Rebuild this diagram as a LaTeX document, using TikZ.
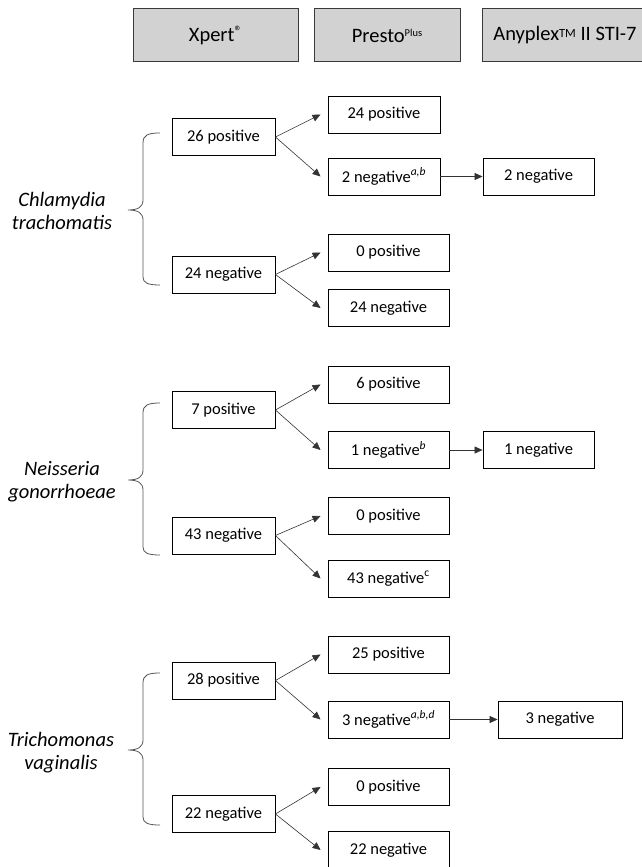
\documentclass[tikz,border=0pt]{standalone}
\usepackage{fontspec}
\setmainfont{Carlito}
\usetikzlibrary{arrows.meta}
\definecolor{hdrfill}{HTML}{D2D2D2}
\definecolor{hdrline}{HTML}{3A3A3A}
\definecolor{arrline}{HTML}{333333}
\definecolor{bracecol}{HTML}{555555}
\tikzset{
  hdr/.style={draw=hdrline, fill=hdrfill, line width=1pt, minimum height=53pt, inner sep=0pt, font=\fontsize{20.5}{24}\selectfont},
  lbox/.style={draw, line width=0.9pt, minimum width=103pt, minimum height=37pt, inner sep=0pt, font=\fontsize{16.5}{19}\selectfont},
  rbox/.style={draw, line width=0.9pt, minimum width=121pt, minimum height=37pt, inner sep=0pt, font=\fontsize{16.5}{19}\selectfont},
  nbox/.style={rbox, minimum width=112pt},
  species/.style={align=center, font=\fontsize{20.5}{23}\selectfont\itshape},
  arr/.style={draw=arrline, line width=0.6pt, -{Triangle[length=8pt,width=7pt]}},
  brace/.style={draw=bracecol, line width=0.8pt}
}
\newcommand{\sups}[1]{\textsuperscript{\itshape #1}}
\begin{document}
\begin{tikzpicture}[x=1pt,y=-1pt]
\clip (0,0) rectangle (642,867);
\fill[white] (0,0) rectangle (642,867);
% headers
\node[hdr, minimum width=165pt] (hx) at (215.5,35.5) {Xpert\raisebox{0.45ex}{\fontsize{15}{15}\selectfont®}};
\node[hdr, minimum width=146pt] (hp) at (387,35.5) {Presto\raisebox{0.6ex}{\fontsize{10.5}{10.5}\selectfont Plus}};
\node[hdr, minimum width=180pt] (ha) at (572,35.5) {\hspace*{-14pt}Anyplex\raisebox{0.4ex}{\fontsize{12.5}{12.5}\selectfont TM} II STI-7};

% ---------- Chlamydia trachomatis ----------
\node[species] (s1) at (62,211) {Chlamydia\\trachomatis};
\coordinate (s1t) at (160,133);
\coordinate (s1m) at (128,210);
\coordinate (s1b) at (160,285);
\draw[brace] (s1t) .. controls (148,133) and (143,135) .. (143,143) -- (143,200)
  .. controls (143,207) and (138,210) .. (s1m)
  .. controls (138,210) and (143,213) .. (143,220) -- (143,277)
  .. controls (143,283) and (148,285) .. (s1b);
\node[lbox] (a1) at (223.5,137) {26 positive};
\node[lbox] (a2) at (223.5,274.5) {24 negative};
\node[nbox] (b1) at (384,114.5) {24 positive};
\node[nbox] (b2) at (384,176.5) {2 negative\sups{a,b}};
\node[rbox] (b3) at (388.5,252.5) {0 positive};
\node[rbox] (b4) at (388.5,308) {24 negative};
\node[nbox, minimum width=111pt] (c1) at (538.5,176.5) {2 negative};
\draw[arr] (a1.east) -- ([xshift=-7pt]b1.west);
\draw[arr] (a1.east) -- ([xshift=-7pt]b2.west);
\draw[arr] (a2.east) -- ([xshift=-7pt]b3.west);
\draw[arr] (a2.east) -- ([xshift=-7pt]b4.west);
\draw[arr] (b2.east) -- (c1.west);

% ---------- Neisseria gonorrhoeae ----------
\node[species] (s2) at (62,482) {Neisseria\\gonorrhoeae};
\coordinate (s2t) at (160,403);
\coordinate (s2m) at (128,480);
\coordinate (s2b) at (160,555);
\draw[brace] (s2t) .. controls (148,403) and (143,405) .. (143,413) -- (143,470)
  .. controls (143,477) and (138,480) .. (s2m)
  .. controls (138,480) and (143,483) .. (143,490) -- (143,547)
  .. controls (143,553) and (148,555) .. (s2b);
\node[lbox] (d1) at (223.5,410) {7 positive};
\node[lbox] (d2) at (223.5,535.5) {43 negative};
\node[rbox] (e1) at (388.5,384.5) {6 positive};
\node[rbox] (e2) at (388.5,450) {1 negative\sups{b}};
\node[rbox] (e3) at (388.5,516) {0 positive};
\node[rbox] (e4) at (388.5,578.5) {43 negative\textsuperscript{c}};
\node[nbox, minimum width=111pt] (f1) at (538.5,450) {1 negative};
\draw[arr] (d1.east) -- ([xshift=-7pt]e1.west);
\draw[arr] (d1.east) -- ([xshift=-7pt]e2.west);
\draw[arr] (d2.east) -- ([xshift=-7pt]e3.west);
\draw[arr] (d2.east) -- ([xshift=-7pt]e4.west);
\draw[arr] (e2.east) -- (f1.west);

% ---------- Trichomonas vaginalis ----------
\node[species] (s3) at (61,753) {Trichomonas\\vaginalis};
\coordinate (s3t) at (160,673);
\coordinate (s3m) at (128,750);
\coordinate (s3b) at (160,825);
\draw[brace] (s3t) .. controls (148,673) and (143,675) .. (143,683) -- (143,740)
  .. controls (143,747) and (138,750) .. (s3m)
  .. controls (138,750) and (143,753) .. (143,760) -- (143,817)
  .. controls (143,823) and (148,825) .. (s3b);
\node[lbox] (g1) at (223.5,680.5) {28 positive};
\node[lbox] (g2) at (223.5,814) {22 negative};
\node[rbox] (h1) at (388.5,654.5) {25 positive};
\node[rbox] (h2) at (388.5,719.5) {3 negative\sups{a,b,d}};
\node[rbox] (h3) at (388.5,787) {0 positive};
\node[rbox] (h4) at (388.5,850) {22 negative};
\node[nbox, minimum width=124pt] (i1) at (560,719.5) {3 negative};
\draw[arr] (g1.east) -- ([xshift=-7pt]h1.west);
\draw[arr] (g1.east) -- ([xshift=-7pt]h2.west);
\draw[arr] (g2.east) -- ([xshift=-7pt]h3.west);
\draw[arr] (g2.east) -- ([xshift=-7pt]h4.west);
\draw[arr] (h2.east) -- (i1.west);
\end{tikzpicture}
\end{document}
